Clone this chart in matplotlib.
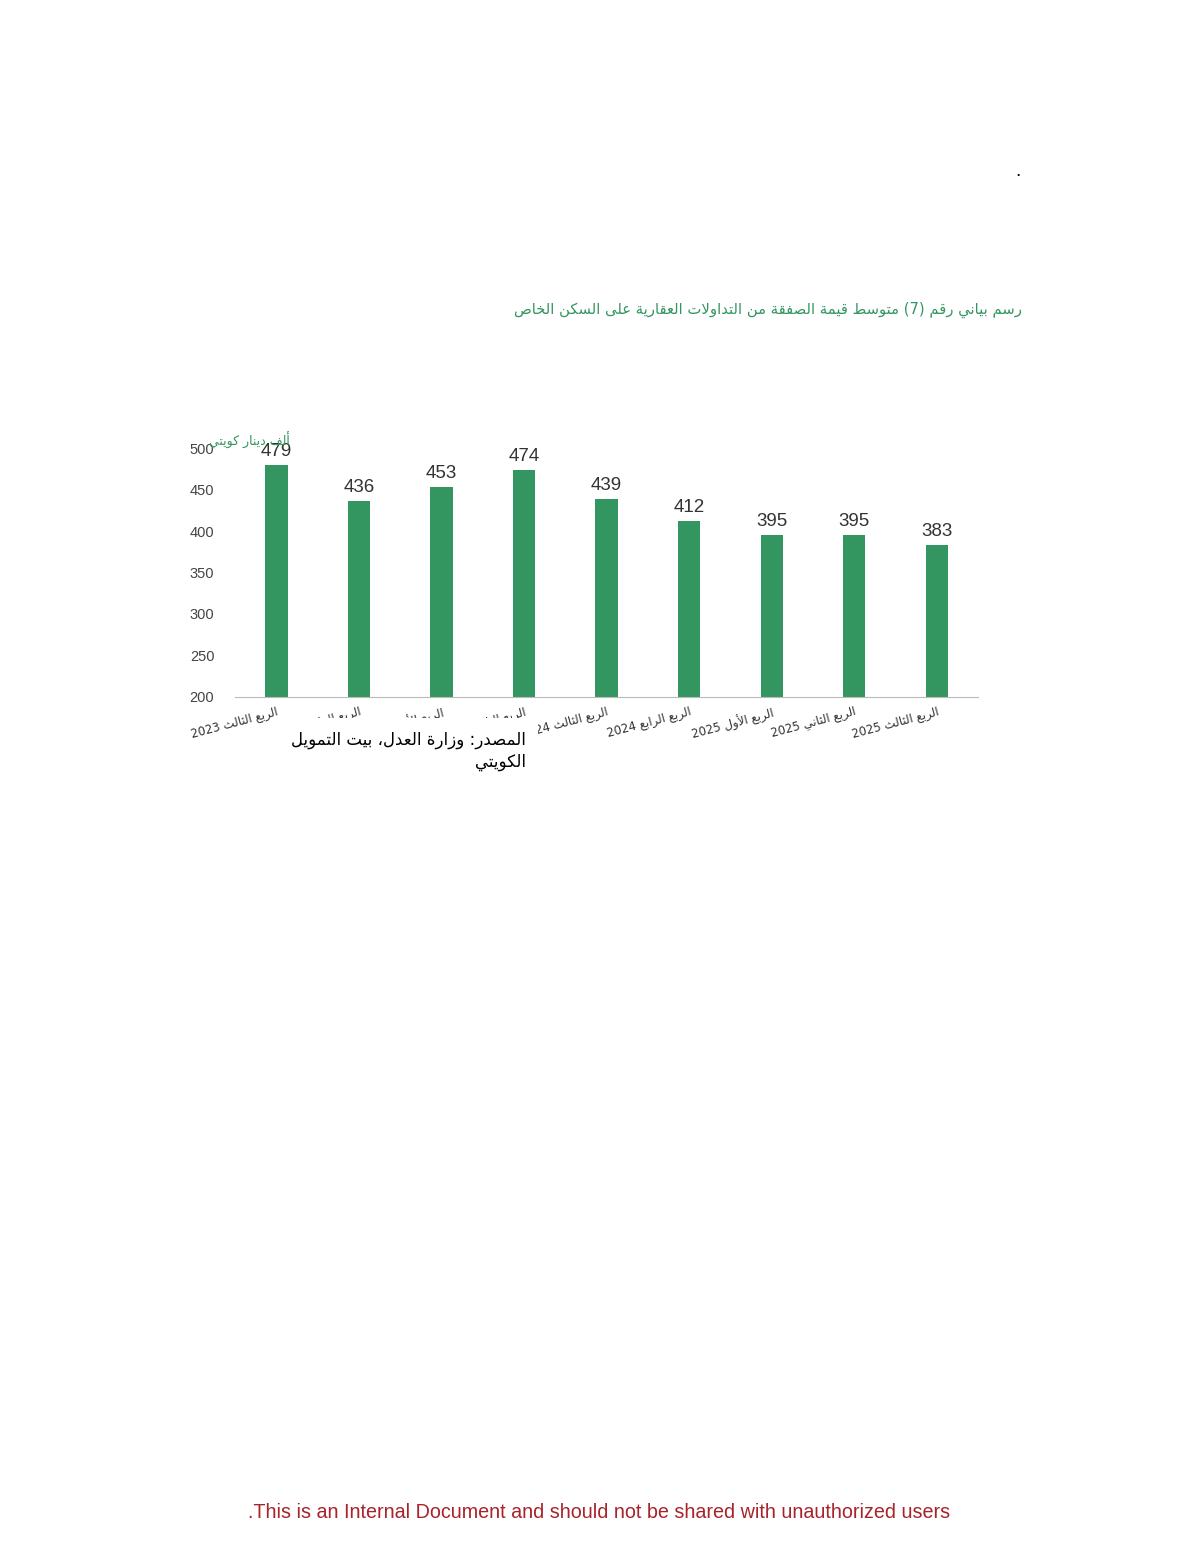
import re
import matplotlib
matplotlib.use('Agg')
import matplotlib.pyplot as plt
from matplotlib.patches import Rectangle

# ==[0] Data
quarters = ['الربع الثالث 2023', 'الربع الرابع 2023', 'الربع الأول 2024',
            'الربع الثاني 2024', 'الربع الثالث 2024', 'الربع الرابع 2024',
            'الربع الأول 2025', 'الربع الثاني 2025', 'الربع الثالث 2025']
avg_value = [479, 436, 453, 474, 439, 412, 395, 395, 383]
y_ticks = [200, 250, 300, 350, 400, 450, 500]

title = 'رسم بياني رقم (7) متوسط قيمة الصفقة من التداولات العقارية على السكن الخاص'
unit = 'ألف دينار كويتي'
source_1 = 'المصدر: وزارة العدل، بيت التمويل'
source_2 = 'الكويتي'
footer = '.This is an Internal Document and should not be shared with unauthorized users'

# ==[1] Minimal Arabic shaping (matplotlib has no shaping / bidi)
# forms: isolated, final, initial, medial  (None -> right-joining only)
FORMS = {
    'ء': (0xFE80, None, None, None), 'آ': (0xFE81, 0xFE82, None, None),
    'أ': (0xFE83, 0xFE84, None, None), 'ؤ': (0xFE85, 0xFE86, None, None),
    'إ': (0xFE87, 0xFE88, None, None), 'ئ': (0xFE89, 0xFE8A, 0xFE8B, 0xFE8C),
    'ا': (0xFE8D, 0xFE8E, None, None), 'ب': (0xFE8F, 0xFE90, 0xFE91, 0xFE92),
    'ة': (0xFE93, 0xFE94, None, None), 'ت': (0xFE95, 0xFE96, 0xFE97, 0xFE98),
    'ث': (0xFE99, 0xFE9A, 0xFE9B, 0xFE9C), 'ج': (0xFE9D, 0xFE9E, 0xFE9F, 0xFEA0),
    'ح': (0xFEA1, 0xFEA2, 0xFEA3, 0xFEA4), 'خ': (0xFEA5, 0xFEA6, 0xFEA7, 0xFEA8),
    'د': (0xFEA9, 0xFEAA, None, None), 'ذ': (0xFEAB, 0xFEAC, None, None),
    'ر': (0xFEAD, 0xFEAE, None, None), 'ز': (0xFEAF, 0xFEB0, None, None),
    'س': (0xFEB1, 0xFEB2, 0xFEB3, 0xFEB4), 'ش': (0xFEB5, 0xFEB6, 0xFEB7, 0xFEB8),
    'ص': (0xFEB9, 0xFEBA, 0xFEBB, 0xFEBC), 'ض': (0xFEBD, 0xFEBE, 0xFEBF, 0xFEC0),
    'ط': (0xFEC1, 0xFEC2, 0xFEC3, 0xFEC4), 'ظ': (0xFEC5, 0xFEC6, 0xFEC7, 0xFEC8),
    'ع': (0xFEC9, 0xFECA, 0xFECB, 0xFECC), 'غ': (0xFECD, 0xFECE, 0xFECF, 0xFED0),
    'ف': (0xFED1, 0xFED2, 0xFED3, 0xFED4), 'ق': (0xFED5, 0xFED6, 0xFED7, 0xFED8),
    'ك': (0xFED9, 0xFEDA, 0xFEDB, 0xFEDC), 'ل': (0xFEDD, 0xFEDE, 0xFEDF, 0xFEE0),
    'م': (0xFEE1, 0xFEE2, 0xFEE3, 0xFEE4), 'ن': (0xFEE5, 0xFEE6, 0xFEE7, 0xFEE8),
    'ه': (0xFEE9, 0xFEEA, 0xFEEB, 0xFEEC), 'و': (0xFEED, 0xFEEE, None, None),
    'ى': (0xFEEF, 0xFEF0, None, None), 'ي': (0xFEF1, 0xFEF2, 0xFEF3, 0xFEF4),
}
LAM_ALEF = {'ا': (0xFEFB, 0xFEFC), 'أ': (0xFEF7, 0xFEF8),
            'إ': (0xFEF9, 0xFEFA), 'آ': (0xFEF5, 0xFEF6)}


def dual(c):
    return c in FORMS and FORMS[c][2] is not None


def ar(text):
    # ligature lam + alef first
    chars = []
    i = 0
    while i < len(text):
        if text[i] == 'ل' and i + 1 < len(text) and text[i + 1] in LAM_ALEF:
            chars.append(('LA', text[i + 1]))
            i += 2
        else:
            chars.append(('C', text[i]))
            i += 1
    out = []
    for k, (kind, c) in enumerate(chars):
        prev = chars[k - 1] if k > 0 else None
        nxt = chars[k + 1] if k + 1 < len(chars) else None
        join_prev = prev is not None and prev[0] == 'C' and dual(prev[1])
        if kind == 'LA':
            iso, fin = LAM_ALEF[c]
            out.append(chr(fin if join_prev else iso))
            continue
        if c not in FORMS:
            out.append(c)
            continue
        join_next = dual(c) and nxt is not None and (nxt[0] == 'LA' or nxt[1] in FORMS)
        iso, fin, ini, med = FORMS[c]
        if join_prev and join_next:
            out.append(chr(med))
        elif join_prev:
            out.append(chr(fin))
        elif join_next:
            out.append(chr(ini))
        else:
            out.append(chr(iso))
    vis = ''.join(out)[::-1]
    vis = re.sub(r'\d+', lambda m: m.group(0)[::-1], vis)
    return vis.translate(str.maketrans('()', ')('))


plt.rcParams['font.family'] = ['Liberation Sans', 'DejaVu Sans']
AR_FONT = ['DejaVu Sans']

green = '#33955f'

# ==[2] Figure / page
fig = plt.figure(figsize=(12, 15.54), dpi=100)
ax = fig.add_axes([0.196, 0.5515, 0.619, 0.1602])

x = range(len(avg_value))
ax.bar(x, avg_value, width=0.27, color=green, zorder=2)
for xi, v in zip(x, avg_value):
    ax.text(xi, v + 6, str(v), ha='center', va='bottom', fontsize=13.5, color='#333333')

ax.set_xlim(-0.5, len(avg_value) - 0.5)
ax.set_ylim(200, 500)
ax.set_yticks(y_ticks)
ax.tick_params(axis='y', length=0, pad=15, labelsize=10.5, labelcolor='#444444')
ax.tick_params(axis='x', length=0, pad=6)
ax.set_xticks(list(x))
ax.set_xticklabels([ar(q) for q in quarters], rotation=15, ha='right',
                   rotation_mode='anchor', fontsize=8.5, family=AR_FONT, color='#333333')
for s in ['top', 'right', 'left']:
    ax.spines[s].set_visible(False)
ax.spines['bottom'].set_color('#bbbbbb')

# unit label (overlaps the top tick, as in the source document)
fig.text(290 / 1200, 1 - 440 / 1554, ar(unit), ha='right', va='center',
         fontsize=9, color=green, family=AR_FONT)

# title
fig.text(1022 / 1200, 1 - 310 / 1554, ar(title), ha='right', va='center',
         fontsize=10.6, color=green, family=AR_FONT)

# stray dot at top of page
fig.text(1018 / 1200, 1 - 172 / 1554, '.', ha='center', va='center', fontsize=14, color='black')

# source box covering part of the tick labels
fig.add_artist(Rectangle((272 / 1200, 1 - 778 / 1554), 266 / 1200, 60 / 1554,
                         transform=fig.transFigure, facecolor='white',
                         edgecolor='none', zorder=5))
fig.text(526 / 1200, 1 - 740 / 1554, ar(source_1), ha='right', va='center',
         fontsize=12, color='black', family=AR_FONT, zorder=6)
fig.text(526 / 1200, 1 - 762 / 1554, ar(source_2), ha='right', va='center',
         fontsize=12, color='black', family=AR_FONT, zorder=6)

# footer
fig.text(599 / 1200, 1 - 1513 / 1554, footer, ha='center', va='center',
         fontsize=14.2, color='#a8232a')

fig.savefig('out.png', dpi=100, facecolor='white')
